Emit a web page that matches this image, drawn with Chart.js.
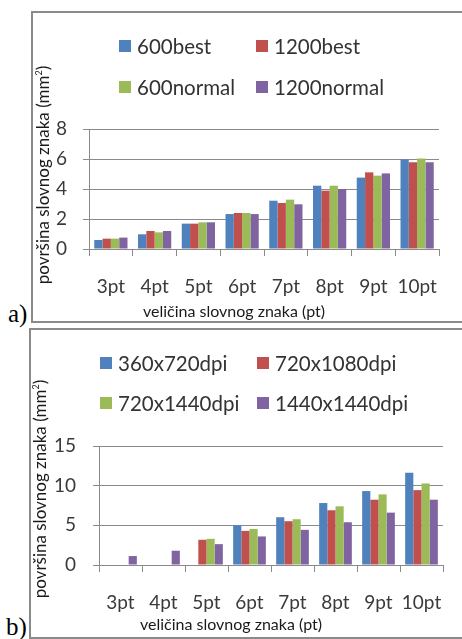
<!DOCTYPE html>
<html>
<head>
<meta charset="utf-8">
<script src="https://cdn.jsdelivr.net/npm/chart.js@4.4.0/dist/chart.umd.min.js"></script>
<style>
  body { margin: 0; background: #fff; width: 462px; height: 639px; position: relative; overflow: hidden; font-family: Lato, sans-serif; }
  .frame { position: absolute; border: 2px solid #8a8a8a; box-sizing: border-box; }
  canvas { position: absolute; }
  .legend-item { position: absolute; display: flex; align-items: center; font-size: 20.5px; color: #333; white-space: nowrap; transform: translateY(-50%); }
  .legend-item .swatch { width: 12px; height: 12px; margin-right: 6px; flex: none; }
  .axis-title { position: absolute; font-size: 16px; color: #1a1a1a; white-space: nowrap; }
  .axis-title.y { font-size: 17px; transform: translate(-50%, -50%) rotate(-90deg); }
  .axis-title.x { transform: translate(-50%, -50%); }
  .axis-title sup { font-size: 9px; }
  .panel-tag { position: absolute; font-family: 'Liberation Serif', 'Times New Roman', serif; font-size: 25px; line-height: 1; color: #000; }
</style>
</head>
<body>

<div class="frame" style="left:31px; top:11px; width:500px; height:312px;"></div>
<div class="frame" style="left:29px; top:328px; width:500px; height:311px;"></div>

<canvas id="chartA" width="428" height="308" style="left:34px; top:13px;"></canvas>
<canvas id="chartB" width="431" height="307" style="left:31px; top:330px;"></canvas>

<div class="panel-tag" style="left:8px; top:301px;">a)</div>
<div class="panel-tag" style="left:6px; top:614px;">b)</div>

<script>
// font sizes (category labels along the x axis)
const sizeLabels = ['3pt', '4pt', '5pt', '6pt', '7pt', '8pt', '9pt', '10pt'];
const seriesColors = ['#4F81BD', '#C0504D', '#9BBB59', '#8064A2'];

// a) print modes
const modeNames = ['600best', '1200best', '600normal', '1200normal'];
const best600    = [0.60, 0.98, 1.69, 2.33, 3.22, 4.22, 4.76, 5.96];
const best1200   = [0.69, 1.20, 1.69, 2.40, 3.07, 3.89, 5.11, 5.78];
const normal600  = [0.69, 1.11, 1.78, 2.40, 3.29, 4.22, 4.89, 6.04];
const normal1200 = [0.76, 1.20, 1.78, 2.33, 2.98, 4.00, 5.04, 5.78];
const modeTicks  = [0, 2, 4, 6, 8];

// b) resolutions (null = letter not printed)
const dpiNames     = ['360x720dpi', '720x1080dpi', '720x1440dpi', '1440x1440dpi'];
const dpi360x720   = [null, null, null, 5.01, 6.02, 7.81, 9.32, 11.62];
const dpi720x1080  = [null, null, 3.18, 4.30, 5.52, 6.90, 8.23, 9.44];
const dpi720x1440  = [null, null, 3.30, 4.55, 5.77, 7.40, 8.90, 10.28];
const dpi1440x1440 = [1.13, 1.80, 2.63, 3.60, 4.43, 5.39, 6.60, 8.23];
const dpiTicks     = [0, 5, 10, 15];

const yTitleHtml = 'površina slovnog znaka (mm<sup>2</sup>)';
const xTitleText = 'veličina slovnog znaka (pt)';

const gridGray = '#8a8a8a';
const labelGray = '#3a3a3a';

function addLegend(names, cols, rows) {
  names.forEach((name, i) => {
    const item = document.createElement('div');
    item.className = 'legend-item';
    item.style.left = cols[i % 2] + 'px';
    item.style.top = rows[Math.floor(i / 2)] + 'px';
    const sw = document.createElement('span');
    sw.className = 'swatch';
    sw.style.background = seriesColors[i];
    const txt = document.createElement('span');
    txt.textContent = name;
    item.appendChild(sw);
    item.appendChild(txt);
    document.body.appendChild(item);
  });
}

function addAxisTitles(xPos, yPos) {
  const xt = document.createElement('div');
  xt.className = 'axis-title x';
  xt.textContent = xTitleText;
  xt.style.left = xPos[0] + 'px';
  xt.style.top = xPos[1] + 'px';
  document.body.appendChild(xt);

  const yt = document.createElement('div');
  yt.className = 'axis-title y';
  yt.innerHTML = yTitleHtml;
  yt.style.left = yPos[0] + 'px';
  yt.style.top = yPos[1] + 'px';
  document.body.appendChild(yt);
}

function drawBars(canvasId, names, series, ticks, geom) {
  const ctx = document.getElementById(canvasId).getContext('2d');
  const tickFont = { family: 'Lato', size: 19 };

  return new Chart(ctx, {
    type: 'bar',
    data: {
      labels: sizeLabels,
      datasets: series.map((values, i) => ({
        label: names[i],
        data: values,
        backgroundColor: seriesColors[i],
        borderWidth: 0
      }))
    },
    options: {
      responsive: false,
      animation: false,
      categoryPercentage: 0.76,
      barPercentage: 1,
      layout: { padding: { top: geom.padTop, right: geom.padRight, left: 0, bottom: 0 } },
      plugins: {
        legend: { display: false },
        tooltip: { enabled: false }
      },
      scales: {
        x: {
          grid: {
            drawOnChartArea: false,
            drawTicks: true,
            tickLength: 7,
            color: gridGray
          },
          border: { display: true, color: gridGray, width: 1 },
          ticks: { color: labelGray, font: tickFont, padding: 19, maxRotation: 0 },
          afterFit: (scale) => { scale.height = geom.xAxisHeight; }
        },
        y: {
          min: ticks[0],
          max: ticks[ticks.length - 1],
          grid: {
            color: gridGray,
            tickLength: 6,
            drawTicks: true
          },
          border: { display: true, color: gridGray, width: 1 },
          ticks: { stepSize: ticks[1] - ticks[0], color: labelGray, font: tickFont, padding: geom.yPad },
          afterFit: (scale) => { scale.width = geom.yAxisWidth; }
        }
      }
    }
  });
}

// a) 600/1200 dpi, best/normal
addLegend(modeNames, [119, 256], [46, 87]);
addAxisTitles([234, 310], [42, 175]);
drawBars('chartA', modeNames, [best600, best1200, normal600, normal1200], modeTicks,
  { padTop: 116, padRight: 23, yAxisWidth: 55, xAxisHeight: 72, yPad: 16 });

// b) four resolutions
addLegend(dpiNames, [100, 257], [363, 403]);
addAxisTitles([231, 623], [39, 489]);
drawBars('chartB', dpiNames, [dpi360x720, dpi720x1080, dpi720x1440, dpi1440x1440], dpiTicks,
  { padTop: 116, padRight: 19, yAxisWidth: 68, xAxisHeight: 72, yPad: 17 });
</script>
</body>
</html>
